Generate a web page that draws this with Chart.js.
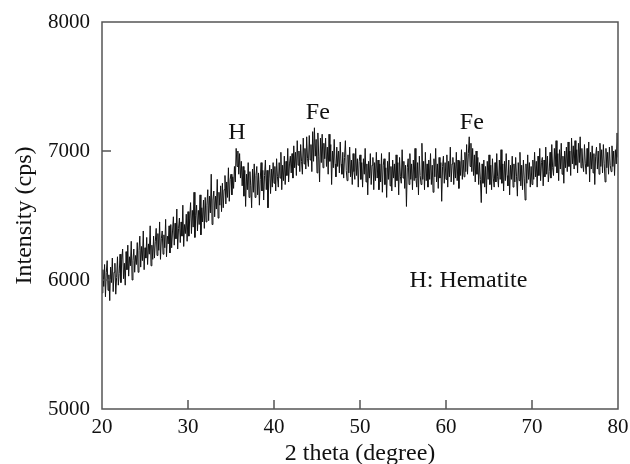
<!DOCTYPE html>
<html>
<head>
<meta charset="utf-8">
<script src="https://cdn.jsdelivr.net/npm/chart.js@4/dist/chart.umd.min.js"></script>
<style>
html,body{margin:0;padding:0;background:#fff;}
#wrap{width:630px;height:464px;position:relative;}
</style>
</head>
<body>
<div id="wrap"><canvas id="c" width="630" height="464"></canvas></div>
<script>
// 2θ range of the scan (degrees); one reading every 0.1°
const thetaStart = 20;
const thetaEnd = 80;
// Intensity values (cps), 20 per 2° row
const intensity = [
5900,6080,5950,6120,5870,6060,6150,5920,6040,5840,6100,5980,6170,5910,6060,6130,5890,6020,6180,5960,
6050,6200,5980,6160,6240,6010,6130,5960,6220,6080,6270,6030,6180,6110,6300,6000,6150,6240,6060,6190,
6120,6290,6060,6230,6340,6100,6260,6150,6380,6080,6250,6170,6330,6120,6280,6200,6420,6110,6270,6160,
6340,6170,6300,6400,6190,6360,6230,6450,6160,6320,6380,6200,6350,6250,6470,6180,6340,6280,6420,6210,
6430,6250,6380,6490,6270,6440,6320,6550,6240,6400,6480,6290,6450,6340,6580,6260,6430,6360,6510,6300,
6530,6340,6480,6600,6360,6540,6410,6680,6330,6500,6580,6380,6540,6430,6660,6350,6560,6450,6620,6400,
6640,6450,6580,6700,6460,6650,6520,6820,6430,6620,6690,6490,6650,6550,6780,6480,6680,6580,6730,6530,
6750,6560,6700,6810,6590,6760,6640,6870,6610,6780,6820,6660,6800,6710,6880,6760,7020,6880,7000,6820,
6980,6790,6920,6730,6880,6650,6850,6570,6820,6700,6910,6640,6840,6730,6560,6860,6680,6900,6640,6810,
6880,6660,6830,6580,6780,6910,6690,6850,6620,6810,6930,6700,6850,6560,6790,6890,6670,6860,6720,6910,
6750,6880,6690,6940,6800,6720,6910,6790,6990,6700,6890,6770,6960,6740,6920,6810,7020,6760,6900,6960,
6830,6980,6790,7040,6870,6990,6810,7080,6890,7000,6840,7050,6920,6820,7100,6900,7020,6860,7110,6940,
6880,7120,6930,7050,6840,7150,6920,7180,6960,7090,6830,7140,6960,6760,7100,6910,7130,6870,7060,6940,
7100,6880,7030,6820,7130,6920,7050,6740,7000,6870,7090,6900,6800,7030,6880,7000,6830,7070,6900,6820,
6990,6790,6950,7080,6850,6770,6970,6830,7030,6800,6930,6740,6980,6840,6780,7020,6810,6940,6720,6920,
6970,6780,6910,6720,6940,6820,7020,6760,6900,6660,6920,6790,6980,6740,6890,6950,6700,6910,6770,6990,
6790,6930,6700,6900,6760,6980,6680,6890,6940,6740,6870,6640,6920,6780,6990,6730,6880,6690,6930,6790,
6900,6720,6970,6770,6910,6660,6950,6800,6750,7010,6790,6920,6710,6890,6570,6870,6940,6740,6980,6780,
6900,6700,6930,6770,7020,6790,6720,6910,6660,6960,6810,6740,7060,6780,6920,6700,6990,6770,6900,6720,
6930,6780,6980,6740,6890,6680,6940,6800,7020,6760,6900,6710,6950,6790,6910,6610,6880,6960,6750,6910,
6780,6970,6720,6920,6800,7030,6760,6900,6950,6740,6910,6790,6990,6770,6930,6710,6920,6810,7010,6780,
6930,6800,6990,6840,7050,6820,6980,7110,6880,7060,6840,7020,6810,6970,6760,7000,6820,6950,6740,6910,
6780,6600,6900,6750,6930,6720,6880,6670,6920,6780,6970,6740,6890,6700,6940,6790,6720,6910,6760,6980,
6800,6720,6930,6780,7010,6750,6900,6690,6920,6770,6980,6810,6730,6930,6660,6890,6780,6960,6720,6900,
6760,6950,6800,6650,6910,6770,6990,6730,6890,6700,6930,6790,6620,6900,6750,6970,6780,6910,6720,6880,
6740,6930,6780,6990,6800,6920,6720,6960,6810,7020,6770,6910,6950,6730,6930,6800,7030,6820,6960,6760,
6840,6990,6790,7050,6870,6810,7020,6880,7080,6830,6980,6770,7010,6860,7060,6820,6960,6750,7000,6870,
7030,6840,7070,6880,7000,6810,7100,6900,7040,6860,7080,6890,7010,6830,7060,6910,7110,6870,7020,6900,
6840,7050,6900,6820,7020,6880,7070,6760,6990,6860,7040,6830,6980,6740,6960,7030,6860,7000,6820,7060,
6880,7010,6830,7050,6900,6760,7020,6870,6990,6820,7030,6890,6840,7040,6880,7000,6810,7010,6900,7140,
6950
];
// Axis tick values
const xTicks = [20,30,40,50,60,70,80];
const yTicks = [5000,6000,7000,8000];
// Peak labels: text, 2θ, intensity
const labelTexts = ["H","Fe","Fe","H: Hematite"];
const labelX = [35.7,45.1,63.0,62.6];
const labelY = [7140,7295,7217,5992];

const thetaStep = (thetaEnd - thetaStart) / (intensity.length - 1);
const points = intensity.map((v,i)=>({x: thetaStart + i*thetaStep, y: v}));

const FONT = "'Liberation Serif','Times New Roman',serif";
const FS = 21;
const FT = 24;

const framePlugin = {
  id:'frame',
  afterDraw(chart){
    const {ctx, chartArea:a, scales} = chart;
    ctx.save();
    ctx.strokeStyle = '#555';
    ctx.lineWidth = 1.5;
    ctx.strokeRect(a.left, a.top, a.right-a.left, a.bottom-a.top);
    ctx.beginPath();
    xTicks.forEach(t=>{
      if(t===20||t===80) return;
      const px = scales.x.getPixelForValue(t);
      ctx.moveTo(px, a.bottom); ctx.lineTo(px, a.bottom-9);
    });
    yTicks.forEach(t=>{
      if(t===5000||t===8000) return;
      const py = scales.y.getPixelForValue(t);
      ctx.moveTo(a.left, py); ctx.lineTo(a.left+9, py);
    });
    ctx.stroke();
    ctx.fillStyle = '#111';
    ctx.font = FT + 'px ' + FONT;
    ctx.textAlign = 'center';
    ctx.textBaseline = 'middle';
    labelTexts.forEach((t,i)=>{
      ctx.fillText(t, scales.x.getPixelForValue(labelX[i]), scales.y.getPixelForValue(labelY[i]));
    });
    ctx.restore();
  }
};

new Chart(document.getElementById('c'), {
  type:'line',
  data:{datasets:[{data:points, borderColor:'#111', borderWidth:1, pointRadius:0, tension:0, fill:false}]},
  options:{
    responsive:false,
    animation:false,
    events:[],
    layout:{padding:{left:0,right:12,top:22,bottom:0}},
    plugins:{legend:{display:false}, tooltip:{enabled:false}},
    scales:{
      x:{
        type:'linear', min:20, max:80,
        afterBuildTicks(s){ s.ticks = xTicks.map(v=>({value:v})); },
        afterFit(s){ s.height = 55; s.paddingRight = 0; s.paddingLeft = 0; },
        grid:{display:false, drawTicks:false},
        border:{display:false},
        ticks:{color:'#111', font:{family:FONT, size:FS}, padding:6, maxRotation:0, autoSkip:false, callback:v=>String(v)},
        title:{display:true, text:'2 theta (degree)', color:'#111', font:{family:FONT, size:FT}, padding:{top:0,bottom:-4}}
      },
      y:{
        min:5000, max:8000,
        afterBuildTicks(s){ s.ticks = yTicks.map(v=>({value:v})); },
        afterFit(s){ s.width = 102; s.paddingTop = 0; s.paddingBottom = 0; },
        grid:{display:false, drawTicks:false},
        border:{display:false},
        ticks:{color:'#111', font:{family:FONT, size:FS}, padding:12, callback:v=>String(v)},
        title:{display:true, text:'Intensity (cps)', color:'#111', font:{family:FONT, size:FT}, padding:{top:10,bottom:0}}
      }
    }
  },
  plugins:[framePlugin]
});
</script>
</body>
</html>
